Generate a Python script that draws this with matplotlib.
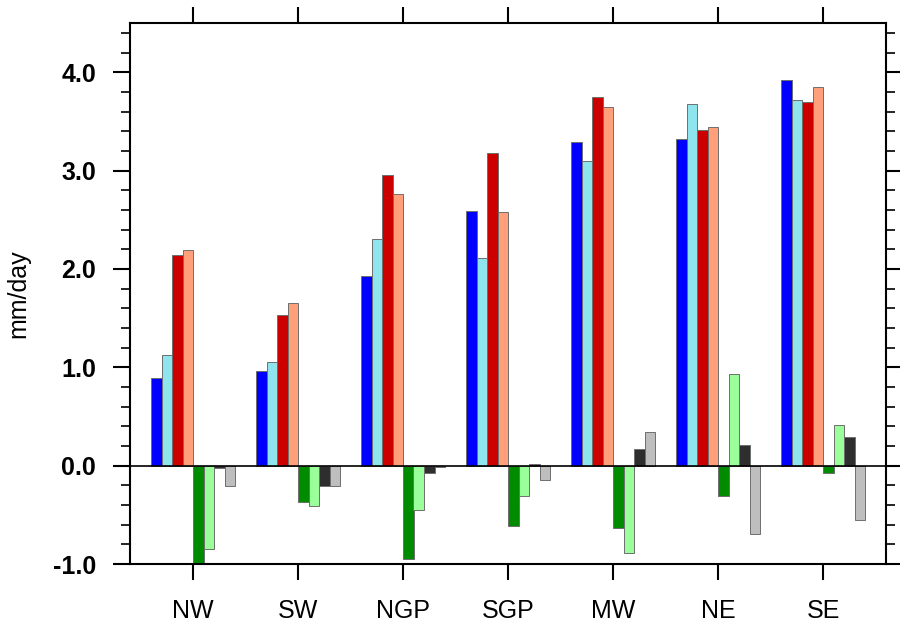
import numpy as np
import matplotlib.pyplot as plt
from matplotlib.ticker import MultipleLocator

plt.rcParams['font.family'] = ['Liberation Sans', 'DejaVu Sans']

regions = ["NW", "SW", "NGP", "SGP", "MW", "NE", "SE"]

# mm/day, one list per bar series (8 bars per region)
s1 = [0.89, 0.96, 1.93, 2.59, 3.29, 3.32, 3.92]
s2 = [1.12, 1.05, 2.30, 2.11, 3.10, 3.68, 3.72]
s3 = [2.14, 1.53, 2.95, 3.18, 3.75, 3.41, 3.70]
s4 = [2.19, 1.65, 2.76, 2.58, 3.65, 3.44, 3.85]
s5 = [-1.00, -0.37, -0.95, -0.61, -0.63, -0.31, -0.07]
s6 = [-0.85, -0.41, -0.45, -0.31, -0.89, 0.93, 0.41]
s7 = [-0.02, -0.21, -0.07, 0.02, 0.17, 0.21, 0.29]
s8 = [-0.21, -0.21, -0.01, -0.15, 0.34, -0.70, -0.55]

colors = ["#0000ff", "#8ee5ee", "#cd0000", "#ffa07a",
          "#008b00", "#9aff9a", "#2e2e2e", "#bebebe"]

series = [s1, s2, s3, s4, s5, s6, s7, s8]
x = np.arange(1, len(regions) + 1)
w = 0.1

fig = plt.figure(figsize=(9, 6.24), dpi=100)
ax = fig.add_axes([130/900, 60/624, 756/900, 541/624])

for i, (vals, c) in enumerate(zip(series, colors)):
    off = (i - 3.5) * w
    ax.bar(x + off, vals, width=w, color=c, edgecolor="#6e6e6e", linewidth=0.7, zorder=2)

ax.axhline(0, color="black", linewidth=1.2, zorder=3)

ax.set_xlim(0.4, 7.6)
ax.set_ylim(-1.0, 4.5)
ax.set_xticks(x)
ax.set_xticklabels(regions)
ax.yaxis.set_major_locator(MultipleLocator(1.0))
ax.yaxis.set_minor_locator(MultipleLocator(0.2))
ax.set_yticks(np.arange(-1, 4.1, 1))
ax.set_yticklabels(["%.1f" % v for v in np.arange(-1, 4.1, 1)])

for sp in ax.spines.values():
    sp.set_linewidth(1.5)

ax.tick_params(axis="both", which="major", direction="out", width=1.5,
               top=True, right=True, labelsize=18, pad=12)
ax.tick_params(axis="x", which="major", length=11.5, pad=14)
ax.tick_params(axis="y", which="major", length=12.5, pad=12)
ax.tick_params(axis="y", which="minor", direction="out", width=1.2, length=6.5,
               right=True)
ax.tick_params(axis="x", which="minor", bottom=False, top=False)
for lab in ax.get_yticklabels():
    lab.set_fontweight("bold")

ax.set_ylabel("mm/day", fontsize=18, labelpad=16)

fig.savefig("out.png", dpi=100)
